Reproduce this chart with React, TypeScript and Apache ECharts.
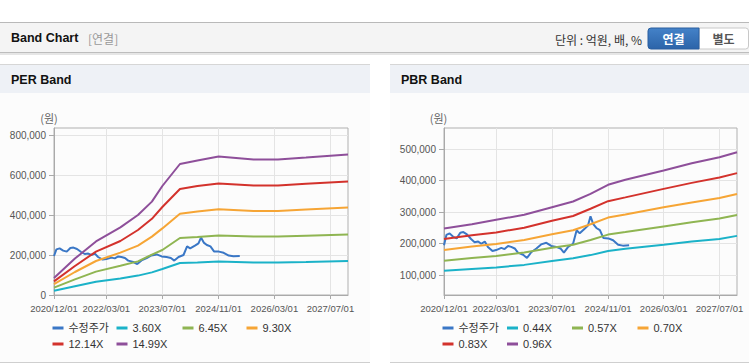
import React, { useEffect, useRef } from 'react';
import * as echarts from 'echarts';

// ---------- data ----------
const xTickLabels = ['2020/12/01', '2022/03/01', '2023/07/01', '2024/11/01', '2026/03/01', '2027/07/01'];
const xStart = '2020/12/01';
const xEnd = '2027/12/01';

const perYTicks = [0, 200000, 400000, 600000, 800000];
const pbrYTicks = [100000, 200000, 300000, 400000, 500000];

const perNames = ['수정주가', '3.60X', '6.45X', '9.30X', '12.14X', '14.99X'];
const pbrNames = ['수정주가', '0.44X', '0.57X', '0.70X', '0.83X', '0.96X'];

const priceDates = [
  '2020/12/01', '2020/12/22', '2021/01/19', '2021/02/19', '2021/03/22', '2021/04/22', '2021/05/19', '2021/06/19',
  '2021/07/25', '2021/08/25', '2021/09/25', '2021/10/22', '2021/11/22', '2021/12/19', '2022/01/28', '2022/03/01',
  '2022/04/15', '2022/05/13', '2022/06/13', '2022/07/10', '2022/08/10', '2022/09/07', '2022/10/22', '2022/11/25',
  '2023/01/01', '2023/02/15', '2023/03/28', '2023/05/13', '2023/06/25', '2023/08/07', '2023/09/13', '2023/10/13',
  '2023/11/19', '2024/01/01', '2024/02/01', '2024/02/28', '2024/04/13', '2024/05/10', '2024/06/01', '2024/06/25',
  '2024/07/22', '2024/08/22', '2024/09/22', '2024/11/04', '2024/12/15', '2025/01/28', '2025/03/10', '2025/05/04',
];
const priceValues = [
  195000, 228000, 233000, 222000, 217000, 235000, 237000, 230000,
  215000, 205000, 207000, 200000, 207000, 190000, 177000, 180000,
  187000, 183000, 193000, 190000, 185000, 172000, 165000, 155000,
  173000, 185000, 198000, 203000, 193000, 190000, 185000, 172000,
  190000, 200000, 243000, 233000, 248000, 258000, 287000, 262000,
  250000, 243000, 218000, 217000, 211000, 197000, 194000, 195000,
];

const perDates = [
  '2020/12/01', '2021/06/01', '2021/12/01', '2022/07/01', '2022/12/01', '2023/04/01', '2023/07/01',
  '2023/12/01', '2024/05/01', '2024/11/01', '2025/09/01', '2026/04/01', '2026/12/01', '2027/12/01',
];
const per360 = [21000, 44000, 66000, 82000, 97000, 113000, 130000, 160000, 162000, 167000, 163000, 163000, 165000, 170000];
const per645 = [37000, 78000, 117000, 146000, 168000, 202000, 225000, 285000, 290000, 297000, 292000, 292000, 296000, 302000];
const per930 = [54000, 115000, 170000, 212000, 247000, 292000, 333000, 406000, 417000, 429000, 420000, 420000, 427000, 437000];
const per1214 = [68000, 145000, 217000, 270000, 325000, 381000, 440000, 530000, 545000, 558000, 548000, 548000, 556000, 568000];
const per1499 = [85000, 182000, 268000, 338000, 400000, 467000, 545000, 655000, 672000, 692000, 677000, 678000, 688000, 703000];

const pbrDates = [
  '2020/12/01', '2021/08/01', '2022/03/01', '2022/11/01', '2023/07/01', '2024/01/01', '2024/06/01',
  '2024/11/01', '2025/04/01', '2026/03/01', '2026/11/01', '2027/07/01', '2027/12/01',
];
const pbr044 = [114000, 120000, 125000, 133000, 145000, 154000, 164000, 177000, 184000, 197000, 207000, 215000, 225000];
const pbr057 = [146000, 155000, 161000, 172000, 187000, 197000, 212000, 229000, 237000, 255000, 268000, 280000, 291000];
const pbr070 = [180000, 191000, 199000, 212000, 230000, 243000, 262000, 283000, 293000, 316000, 331000, 345000, 358000];
const pbr083 = [215000, 227000, 236000, 251000, 273000, 288000, 311000, 335000, 347000, 374000, 393000, 410000, 424000];
const pbr096 = [248000, 262000, 276000, 292000, 316000, 334000, 358000, 387000, 403000, 432000, 455000, 474000, 490000];

// ---------- styling ----------
const colors = ['#3a77c6', '#1bb2c8', '#8fb552', '#f6a535', '#d3322c', '#8e4f9a'];
const axisFont = "'Liberation Sans', Arial, sans-serif";
const textFont = "'Liberation Sans', 'Noto Sans CJK KR', sans-serif";
const krFont = "'Noto Sans CJK KR', 'Liberation Sans', sans-serif";

function toTs(label: string): number {
  const [y, m, d] = label.split('/').map(Number);
  return new Date(y, m - 1, d).getTime();
}
function pad(n: number) {
  return n < 10 ? '0' + n : '' + n;
}
function fmtDate(v: number) {
  const d = new Date(v);
  return `${d.getFullYear()}/${pad(d.getMonth() + 1)}/${pad(d.getDate())}`;
}
function pairs(dates: string[], vals: number[]) {
  return dates.map((d, i) => [toTs(d), vals[i]]);
}

export default function App() {
  const ref = useRef<HTMLDivElement>(null);

  useEffect(() => {
    if (!ref.current) return;
    const chart = echarts.init(ref.current, null, { renderer: 'svg' });

    const perBands = [per360, per645, per930, per1214, per1499];
    const pbrBands = [pbr044, pbr057, pbr070, pbr083, pbr096];

    const mkLine = (name: string, data: number[][], color: string, idx: number) => ({
      type: 'line',
      name,
      xAxisIndex: idx,
      yAxisIndex: idx,
      data,
      symbol: 'none',
      showSymbol: false,
      silent: true,
      lineStyle: { width: 2, color },
      itemStyle: { color },
    });

    const series: any[] = [];
    series.push(mkLine(perNames[0], pairs(priceDates, priceValues), colors[0], 0));
    perBands.forEach((b, i) => series.push(mkLine(perNames[i + 1], pairs(perDates, b), colors[i + 1], 0)));
    series.push(mkLine(pbrNames[0], pairs(priceDates, priceValues), colors[0], 1));
    pbrBands.forEach((b, i) => series.push(mkLine(pbrNames[i + 1], pairs(pbrDates, b), colors[i + 1], 1)));

    const xTickTs = xTickLabels.map(toTs);

    const mkX = (gridIndex: number) => ({
      type: 'value',
      gridIndex,
      min: toTs(xStart),
      max: toTs(xEnd),
      scale: true,
      axisLine: { show: true, onZero: false, lineStyle: { color: '#aaaaaa', width: 1 } },
      axisTick: { show: true, length: 4, lineStyle: { color: '#aaaaaa' }, customValues: xTickTs },
      splitLine: { show: true, lineStyle: { color: '#e4e4e4', width: 1 } },
      axisLabel: {
        customValues: xTickTs,
        formatter: (v: number) => fmtDate(v),
        color: '#555555',
        fontSize: 9.5,
        fontFamily: axisFont,
        margin: 8,
        hideOverlap: false,
        showMinLabel: true,
        showMaxLabel: true,
      },
    });

    const mkY = (gridIndex: number, min: number, max: number, ticks: number[]) => ({
      type: 'value',
      gridIndex,
      min,
      max,
      axisLine: { show: true, onZero: false, lineStyle: { color: '#aaaaaa', width: 1 } },
      axisTick: { show: true, length: 5, lineStyle: { color: '#aaaaaa' }, customValues: ticks },
      splitLine: { show: true, lineStyle: { color: '#e4e4e4', width: 1 } },
      axisLabel: {
        customValues: ticks,
        formatter: (v: number) => v.toLocaleString('en-US'),
        color: '#555555',
        fontSize: 10,
        fontFamily: axisFont,
        margin: 8,
        hideOverlap: false,
        showMinLabel: true,
        showMaxLabel: true,
      },
    });

    const legends: any[] = [];
    const perCols = [52.5, 116.5, 182.5, 246.5];
    const pbrCols = [442.5, 507, 572, 637.5];
    const rows = [322.5, 338.5];
    const legendBase = {
      icon: 'rect',
      itemWidth: 11,
      itemHeight: 3,
      padding: 0,
      selectedMode: false,
      textStyle: { fontSize: 11, color: '#333333', fontFamily: textFont },
    };
    perNames.forEach((n, i) => {
      legends.push({ ...legendBase, left: perCols[i % 4], top: rows[Math.floor(i / 4)], data: [n] });
    });
    pbrNames.forEach((n, i) => {
      legends.push({ ...legendBase, left: pbrCols[i % 4], top: rows[Math.floor(i / 4)], data: [n] });
    });

    const graphic: any[] = [
      { type: 'rect', silent: true, shape: { x: 0, y: 22, width: 749, height: 31 }, style: { fill: '#f4f4f4' }, z: -10 },
      { type: 'rect', silent: true, shape: { x: 0, y: 22, width: 749, height: 1 }, style: { fill: '#b9b9b9' }, z: -9 },
      { type: 'rect', silent: true, shape: { x: 0, y: 52, width: 749, height: 1 }, style: { fill: '#bdbdbd' }, z: -9 },
      { type: 'rect', silent: true, shape: { x: 0, y: 53, width: 749, height: 2 }, style: { fill: '#e6e6e6' }, z: -9 },
      {
        type: 'text', silent: true, x: 11, y: 38,
        style: { text: 'Band Chart', fontSize: 12.5, fontWeight: 'bold', fill: '#111111', fontFamily: textFont, verticalAlign: 'middle' },
      },
      {
        type: 'text', silent: true, x: 88, y: 38,
        style: { text: '[연결]', fontSize: 12, fill: '#999999', fontFamily: krFont, verticalAlign: 'middle' },
      },
      {
        type: 'text', silent: true, x: 642, y: 39,
        style: { text: '단위 : 억원, 배, %', fontSize: 12, fill: '#333333', fontFamily: krFont, align: 'right', verticalAlign: 'middle' },
      },
      { type: 'rect', silent: true, shape: { x: 699, y: 28, width: 49.5, height: 21, r: [0, 3, 3, 0] }, style: { fill: '#ffffff', stroke: '#c8c8c8', lineWidth: 1 } },
      {
        type: 'rect', silent: true, shape: { x: 648, y: 28, width: 51, height: 21, r: [3, 0, 0, 3] },
        style: {
          fill: new echarts.graphic.LinearGradient(0, 0, 0, 1, [
            { offset: 0, color: '#4482c8' },
            { offset: 1, color: '#2c64a9' },
          ]),
          stroke: '#2a5f9f', lineWidth: 1,
        },
      },
      {
        type: 'text', silent: true, x: 673.5, y: 38.5,
        style: { text: '연결', fontSize: 12, fontWeight: 'bold', fill: '#ffffff', fontFamily: krFont, align: 'center', verticalAlign: 'middle' },
      },
      {
        type: 'text', silent: true, x: 723.5, y: 38.5,
        style: { text: '별도', fontSize: 12, fontWeight: 'bold', fill: '#555555', fontFamily: krFont, align: 'center', verticalAlign: 'middle' },
      },
    ];

    const panels = [
      { x: 0, w: 370, title: 'PER Band', unitX: 49 },
      { x: 390, w: 359, title: 'PBR Band', unitX: 438.5 },
    ];
    panels.forEach((p) => {
      graphic.push(
        { type: 'rect', silent: true, shape: { x: p.x, y: 64, width: p.w, height: 1 }, style: { fill: '#d6d6d6' }, z: -10 },
        { type: 'rect', silent: true, shape: { x: p.x, y: 65, width: p.w, height: 28 }, style: { fill: '#eef1f6' }, z: -10 },
        { type: 'rect', silent: true, shape: { x: p.x, y: 93, width: p.w, height: 269 }, style: { fill: '#fcfcfc' }, z: -10 },
        { type: 'rect', silent: true, shape: { x: p.x, y: 362, width: p.w, height: 1 }, style: { fill: '#cfcfcf' }, z: -10 },
        {
          type: 'text', silent: true, x: p.x + 11, y: 80,
          style: { text: p.title, fontSize: 12.5, fontWeight: 'bold', fill: '#111111', fontFamily: textFont, verticalAlign: 'middle' },
        },
        {
          type: 'text', silent: true, x: p.unitX, y: 118,
          style: { text: '(원)', fontSize: 11, fill: '#666666', fontFamily: krFont, align: 'center', verticalAlign: 'middle' },
        }
      );
    });

    chart.setOption({
      animation: false,
      backgroundColor: '#ffffff',
      grid: [
        { left: 54, top: 128, width: 294, height: 167, show: true, borderColor: '#b0b0b0', borderWidth: 1, outerBoundsMode: 'none', containLabel: false },
        { left: 444, top: 128, width: 293, height: 167, show: true, borderColor: '#b0b0b0', borderWidth: 1, outerBoundsMode: 'none', containLabel: false },
      ],
      xAxis: [mkX(0), mkX(1)],
      yAxis: [mkY(0, 0, 835000, perYTicks), mkY(1, 37500, 567000, pbrYTicks)],
      legend: legends,
      tooltip: { show: false },
      graphic,
      series,
    });

    return () => chart.dispose();
  }, []);

  return (
    <div
      ref={ref}
      style={{ position: 'absolute', left: 0, top: 0, width: 749, height: 364 }}
    />
  );
}
